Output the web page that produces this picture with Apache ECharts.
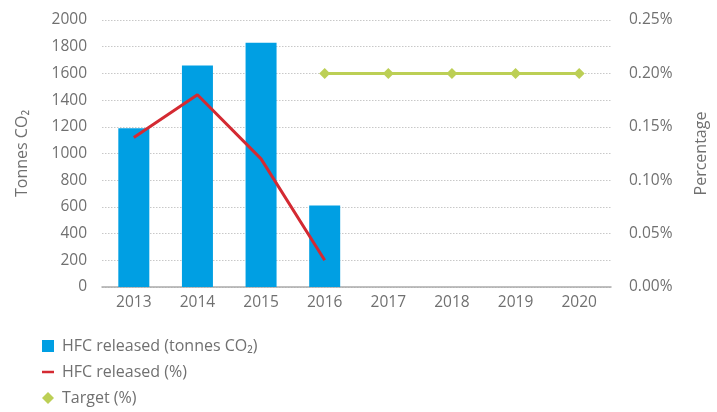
<!DOCTYPE html>
<html>
<head>
<meta charset="utf-8">
<script src="https://cdn.jsdelivr.net/npm/echarts@6/dist/echarts.min.js"></script>
<style>
  html, body { margin: 0; padding: 0; background: #fff; }
  #main { width: 717px; height: 412px; }
</style>
</head>
<body>
<div id="main"></div>
<script>
// 数据
const years = ['2013', '2014', '2015', '2016', '2017', '2018', '2019', '2020'];
const hfcTonnes = [1190, 1660, 1830, 610, null, null, null, null];
const hfcPercent = [0.14, 0.18, 0.12, 0.025, null, null, null, null];
const targetPercent = [null, null, null, 0.2, 0.2, 0.2, 0.2, 0.2];

const textColor = '#707070';
const font = 'Open Sans';

const chart = echarts.init(document.getElementById('main'));

const options = {
  animation: false,
  textStyle: { fontFamily: font },
  grid: { left: 102, right: 105, top: 20, bottom: 125 },
  legend: {
    orient: 'vertical',
    left: 37,
    top: 333,
    height: 120,
    itemWidth: 12,
    itemHeight: 12,
    itemGap: 10,
    textStyle: { color: textColor, fontSize: 16, fontFamily: font, padding: [0, 0, 0, 3] },
    data: [
      { name: 'HFC released (tonnes CO₂)', icon: 'rect' },
      { name: 'HFC released (%)', icon: 'path://M0,0h12v2.5h-12z' },
      { name: 'Target (%)', icon: 'diamond' }
    ]
  },
  xAxis: {
    type: 'category',
    data: years,
    axisTick: { show: false },
    axisLine: { lineStyle: { color: '#aaaaaa', width: 1.5 } },
    axisLabel: { color: textColor, fontSize: 15.5, margin: 8 }
  },
  yAxis: [
    {
      type: 'value',
      min: 0,
      max: 2000,
      interval: 200,
      name: 'Tonnes CO₂',
      nameLocation: 'middle',
      nameGap: 72,
      nameTextStyle: { color: textColor, fontSize: 16 },
      axisLine: { show: false },
      axisTick: { show: false },
      axisLabel: { color: textColor, fontSize: 15.5, margin: 15, formatter: v => String(v) },
      splitLine: { lineStyle: { color: '#c8c8c8', type: [1.5, 1.5], width: 1 } }
    },
    {
      type: 'value',
      min: 0,
      max: 0.25,
      interval: 0.05,
      name: 'Percentage',
      nameLocation: 'middle',
      nameGap: 82,
      nameTextStyle: { color: textColor, fontSize: 16 },
      axisLine: { show: false },
      axisTick: { show: false },
      splitLine: { show: false },
      axisLabel: {
        color: textColor,
        fontSize: 15.5,
        margin: 18,
        formatter: v => v.toFixed(2) + '%'
      }
    }
  ],
  series: [
    {
      name: 'HFC released (tonnes CO₂)',
      type: 'bar',
      data: hfcTonnes,
      barWidth: 31,
      itemStyle: { color: '#009fe3' }
    },
    {
      name: 'HFC released (%)',
      type: 'line',
      yAxisIndex: 1,
      data: hfcPercent,
      showSymbol: false,
      symbol: 'none',
      lineStyle: { color: '#d42a32', width: 3 },
      itemStyle: { color: '#d42a32' }
    },
    {
      name: 'Target (%)',
      type: 'line',
      yAxisIndex: 1,
      data: targetPercent,
      symbol: 'diamond',
      symbolSize: 11,
      lineStyle: { color: '#bccf55', width: 3 },
      itemStyle: { color: '#bccf55' }
    }
  ]
};

chart.setOption(options);
</script>
</body>
</html>
